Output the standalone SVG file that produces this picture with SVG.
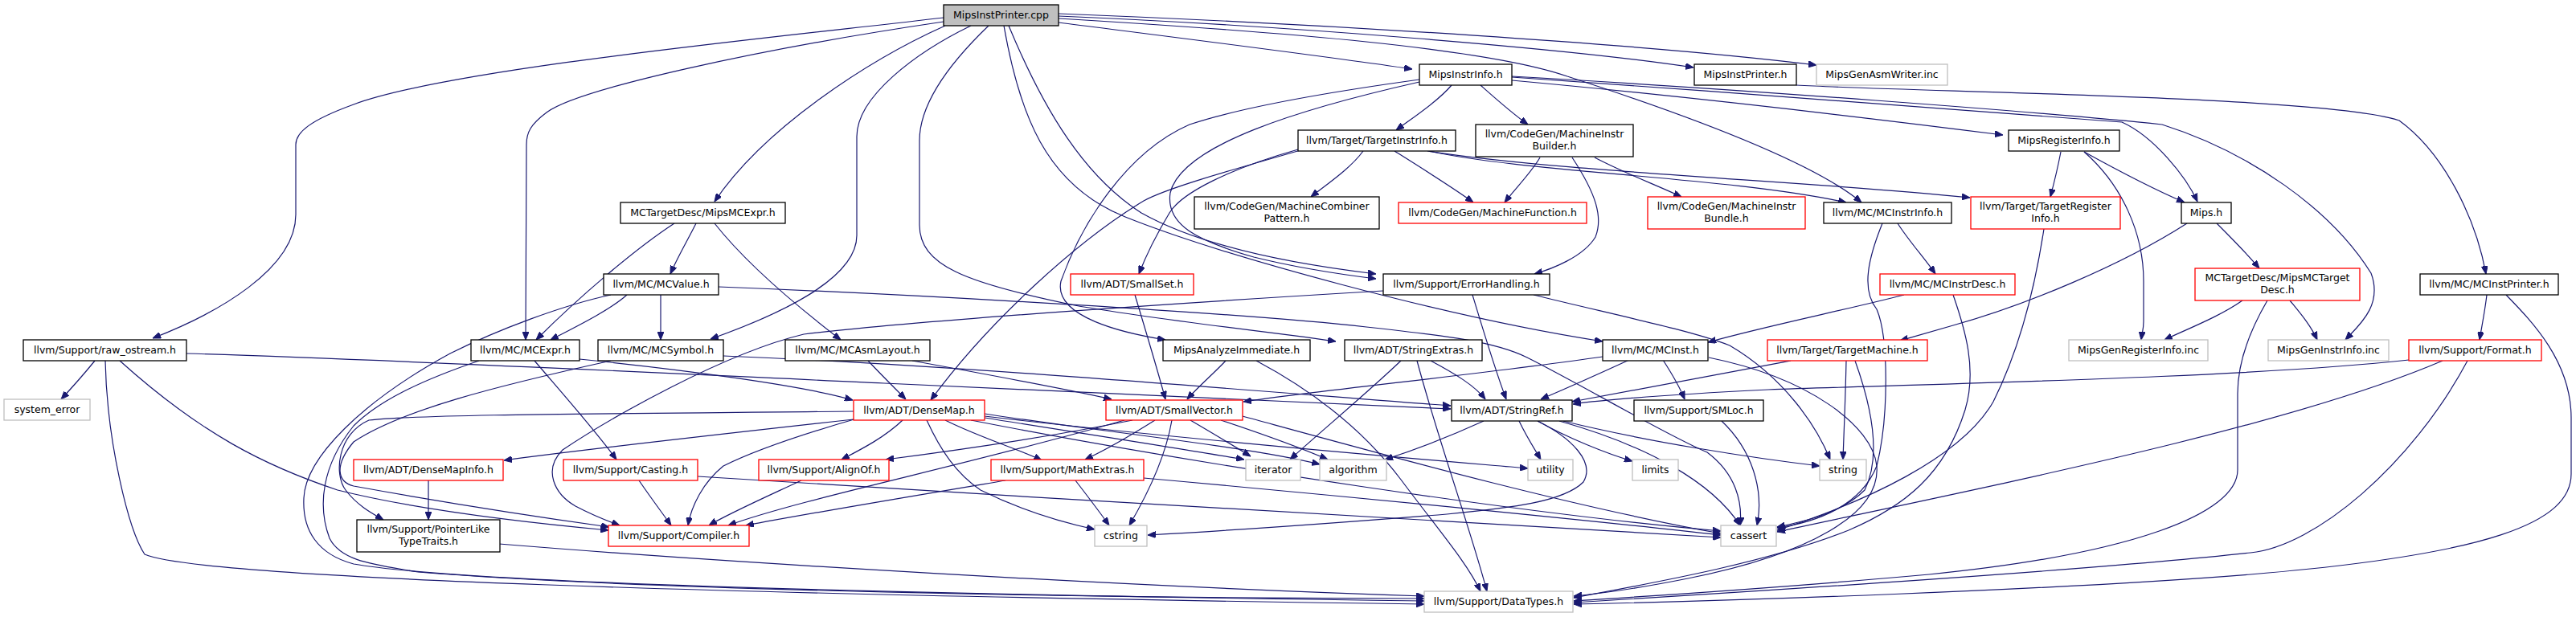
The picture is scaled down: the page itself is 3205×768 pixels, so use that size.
<svg xmlns="http://www.w3.org/2000/svg" width="3205" height="768" viewBox="0 0 3205 768">
<defs>
<marker id="ah" viewBox="0 0 10 8" refX="10" refY="4" markerWidth="10" markerHeight="8" markerUnits="userSpaceOnUse" orient="auto"><path d="M0,0L10,4L0,8z" fill="#191970" stroke="#191970" stroke-width="1"/></marker>
</defs>
<style>
.e{fill:none;stroke:#191970;stroke-width:1.2;marker-end:url(#ah)}
rect{fill:#fff;stroke:#000;stroke-width:1.3}
.r rect{stroke:#ff0000}
.g rect{stroke:#bfbfbf}
.root rect{fill:#bfbfbf}
text{font-family:"DejaVu Sans","Liberation Sans",sans-serif;font-size:12.5px;fill:#000;text-anchor:middle}
</style>
<rect x="0" y="0" width="3205" height="768" style="fill:#fff;stroke:none"/>
<g id="edges">
<path class="e" d="M1174,22 C980,45 560,85 440,130 C385,150 368,165 368,180 L368,267 C368,335 270,390 190,421"/>
<path class="e" d="M1174,27 C950,60 720,110 680,140 C660,155 655,165 655,180 L654,423"/>
<path class="e" d="M1176,32 C1080,75 950,160 889,251"/>
<path class="e" d="M1208,32 C1140,65 1066,120 1066,170 L1066,293 C1066,350 960,395 884,422"/>
<path class="e" d="M1230,32 C1180,80 1144,130 1144,175 L1144,280 C1144,330 1200,352 1337,380 C1450,400 1600,415 1662,425"/>
<path class="e" d="M1249,32 C1268,140 1300,230 1400,270 C1520,318 1800,395 1994,425"/>
<path class="e" d="M1255,32 C1300,140 1350,220 1420,265 C1500,310 1620,330 1712,341"/>
<path class="e" d="M1317,28 C1450,45 1650,70 1757,86"/>
<path class="e" d="M1317,20 C1600,32 1950,60 2107,84"/>
<path class="e" d="M1317,17 C1650,30 2050,55 2260,81"/>
<path class="e" d="M1317,23 C1600,40 1850,60 1950,95 C2120,150 2260,205 2316,252"/>
<path class="e" d="M1806,106 C1790,125 1760,145 1737,162"/>
<path class="e" d="M1842,106 C1860,122 1880,140 1901,155"/>
<path class="e" d="M1766,99 C1650,115 1540,135 1480,155 C1400,190 1345,280 1320,350 C1310,395 1400,415 1450,423"/>
<path class="e" d="M1766,102 C1620,135 1470,180 1456,240 C1450,280 1490,300 1560,320 C1620,335 1680,343 1712,347"/>
<path class="e" d="M1881,100 C2100,120 2350,150 2492,168"/>
<path class="e" d="M1881,96 C2150,115 2500,140 2640,152 C2680,170 2720,220 2734,251"/>
<path class="e" d="M1881,95 C2150,110 2550,140 2690,155 C2800,190 2900,260 2950,340 C2965,380 2935,405 2918,423"/>
<path class="e" d="M2235,106 C2400,115 2900,120 2985,150 C3040,190 3080,270 3093,341"/>
<path class="e" d="M1696,188 C1680,210 1650,230 1631,245"/>
<path class="e" d="M1735,188 C1770,210 1810,235 1833,252"/>
<path class="e" d="M1778,188 C1900,215 2150,220 2297,252"/>
<path class="e" d="M1776,188 C1950,215 2250,225 2451,246"/>
<path class="e" d="M1615,186 C1530,210 1470,240 1455,265 C1440,290 1425,320 1417,341"/>
<path class="e" d="M1618,187 C1520,215 1450,235 1423,250 C1340,300 1230,400 1158,498"/>
<path class="e" d="M1916,196 C1905,215 1885,235 1872,252"/>
<path class="e" d="M1984,196 C2020,215 2060,230 2092,245"/>
<path class="e" d="M1956,196 C1985,240 1995,270 1985,295 C1970,320 1930,335 1909,341"/>
<path class="e" d="M2564,189 C2560,210 2555,230 2551,245"/>
<path class="e" d="M2593,189 C2640,215 2690,240 2718,252"/>
<path class="e" d="M2593,189 C2640,230 2667,290 2667,350 L2667,400 C2667,410 2665,415 2664,423"/>
<path class="e" d="M2758,278 C2775,295 2795,315 2811,334"/>
<path class="e" d="M2721,278 C2640,330 2520,380 2430,405 C2405,412 2385,418 2364,424"/>
<path class="e" d="M2543,285 C2530,370 2510,440 2480,500 C2440,570 2320,625 2211,660"/>
<path class="e" d="M2361,278 C2375,300 2395,322 2408,341"/>
<path class="e" d="M2342,278 C2325,320 2315,360 2335,385 C2350,420 2350,520 2335,580 C2315,630 2260,650 2211,657"/>
<path class="e" d="M2369,367 C2300,385 2200,405 2125,426"/>
<path class="e" d="M2430,367 C2445,410 2460,460 2445,510 C2420,590 2370,630 2300,660 C2200,700 2060,725 1958,744"/>
<path class="e" d="M2790,374 C2760,395 2720,410 2693,423"/>
<path class="e" d="M2849,374 C2862,390 2875,405 2883,423"/>
<path class="e" d="M2821,374 C2800,410 2784,450 2784,490 L2784,585 C2784,640 2650,690 2400,715 C2200,733 2050,742 1958,748"/>
<path class="e" d="M3094,367 C3092,385 3088,405 3085,423"/>
<path class="e" d="M3118,367 C3150,400 3199,450 3199,520 L3199,590 C3199,650 3100,690 2800,715 C2550,735 2150,748 1958,752"/>
<path class="e" d="M2997,448 C2800,470 2400,478 2200,485 C2100,490 2000,497 1957,503"/>
<path class="e" d="M3039,449 C2850,530 2500,600 2211,662"/>
<path class="e" d="M3070,449 C3000,580 2880,680 2800,688 C2600,710 2200,735 1958,750"/>
<path class="e" d="M2297,449 C2296,500 2294,540 2293,572"/>
<path class="e" d="M2228,449 C2120,470 2010,490 1956,500"/>
<path class="e" d="M2308,449 C2330,510 2340,570 2320,610 C2290,640 2240,650 2211,656"/>
<path class="e" d="M2027,448 C1990,465 1945,485 1917,497"/>
<path class="e" d="M2069,448 C2080,465 2090,482 2096,497"/>
<path class="e" d="M1994,444 C1850,465 1650,485 1547,500"/>
<path class="e" d="M2126,445 C2250,470 2330,530 2335,580 C2340,640 2250,690 2100,720 C2050,730 2000,738 1958,742"/>
<path class="e" d="M2142,524 C2180,560 2195,610 2186,654"/>
<path class="e" d="M1846,524 C1800,545 1760,560 1723,572"/>
<path class="e" d="M1890,524 C1900,545 1910,560 1917,572"/>
<path class="e" d="M1913,524 C1950,545 2000,565 2031,574"/>
<path class="e" d="M1945,524 C2050,550 2180,570 2264,580"/>
<path class="e" d="M1940,524 C2050,555 2130,600 2165,654"/>
<path class="e" d="M1913,524 C1955,545 1985,575 1970,600 C1945,625 1880,632 1800,640 C1650,652 1500,662 1428,666"/>
<path class="e" d="M1780,449 C1810,465 1835,480 1848,497"/>
<path class="e" d="M1763,449 C1790,550 1830,660 1850,736"/>
<path class="e" d="M1743,449 C1700,490 1640,540 1605,572"/>
<path class="e" d="M1525,449 C1510,465 1490,482 1477,497"/>
<path class="e" d="M1563,449 C1640,490 1700,540 1743,597 C1790,660 1825,700 1842,736"/>
<path class="e" d="M1412,367 C1425,410 1440,460 1450,497"/>
<path class="e" d="M1080,449 C1095,465 1115,485 1127,497"/>
<path class="e" d="M1135,449 C1250,470 1330,485 1383,497"/>
<path class="e" d="M866,278 C855,300 843,320 834,341"/>
<path class="e" d="M839,278 C790,310 720,370 667,423"/>
<path class="e" d="M889,278 C930,330 990,380 1046,423"/>
<path class="e" d="M780,367 C760,385 720,405 685,423"/>
<path class="e" d="M822,367 L822,423"/>
<path class="e" d="M760,367 C700,380 620,410 560,440 C450,500 380,570 378,620 C376,660 395,690 440,702 C600,730 1300,742 1772,748"/>
<path class="e" d="M894,357 C1150,367 1550,390 1700,407 C1800,418 1860,425 1900,445 C1970,480 2070,540 2124,563 C2160,590 2168,625 2165,654"/>
<path class="e" d="M721,447 C850,460 1000,480 1061,498"/>
<path class="e" d="M665,449 C700,490 740,535 767,572"/>
<path class="e" d="M596,449 C520,475 470,500 440,530 C400,580 395,630 410,670 C425,700 470,703 520,712 C800,735 1400,745 1772,745"/>
<path class="e" d="M900,443 C1200,455 1600,490 1805,505"/>
<path class="e" d="M760,449 C620,480 500,510 440,550 C415,580 420,600 440,605 C550,625 680,645 758,656"/>
<path class="e" d="M118,449 C105,465 90,482 76,497"/>
<path class="e" d="M232,440 C500,448 900,468 1100,477 C1400,490 1650,500 1805,509"/>
<path class="e" d="M149,449 C250,540 330,580 420,610 C520,635 650,650 757,660"/>
<path class="e" d="M131,449 C133,550 160,660 180,690 C250,720 900,740 1772,752"/>
<path class="e" d="M1832,367 C1845,410 1860,460 1874,497"/>
<path class="e" d="M1908,367 C2000,390 2100,410 2152,430 C2220,470 2260,530 2277,572"/>
<path class="e" d="M1721,362 C1500,375 1150,398 1000,416 C900,440 760,520 700,560 C675,585 690,615 716,630 C735,640 760,650 771,654"/>
<path class="e" d="M1062,522 C900,540 720,560 627,573"/>
<path class="e" d="M1062,512 C800,515 530,515 459,523 C420,540 415,590 430,610 C445,630 465,640 477,647"/>
<path class="e" d="M1123,523 C1100,545 1070,560 1047,572"/>
<path class="e" d="M1176,523 C1220,545 1270,560 1296,573"/>
<path class="e" d="M1153,523 C1170,560 1190,590 1220,610 C1270,635 1320,650 1362,659"/>
<path class="e" d="M1066,521 C1000,540 940,560 900,580 C875,600 860,630 856,654"/>
<path class="e" d="M1225,520 C1350,540 1480,560 1548,572"/>
<path class="e" d="M1225,515 C1350,535 1550,555 1642,578"/>
<path class="e" d="M1225,518 C1450,545 1750,570 1901,583"/>
<path class="e" d="M1208,523 C1500,580 1900,640 2141,661"/>
<path class="e" d="M1409,523 C1300,545 1180,562 1102,572"/>
<path class="e" d="M1437,523 C1410,540 1380,558 1350,572"/>
<path class="e" d="M1458,523 C1450,570 1425,620 1405,654"/>
<path class="e" d="M1399,523 C1200,580 1000,620 906,654"/>
<path class="e" d="M1481,523 C1510,540 1535,555 1556,568"/>
<path class="e" d="M1519,523 C1570,540 1615,556 1652,572"/>
<path class="e" d="M1546,518 C1700,560 1950,630 2141,664"/>
<path class="e" d="M1251,598 C1120,620 1000,640 928,654"/>
<path class="e" d="M1338,598 C1355,620 1370,640 1380,654"/>
<path class="e" d="M1423,595 C1700,620 2000,650 2141,666"/>
<path class="e" d="M997,598 C950,620 905,640 882,654"/>
<path class="e" d="M795,598 C810,620 825,640 835,654"/>
<path class="e" d="M868,593 C1300,620 1800,650 2141,669"/>
<path class="e" d="M533,598 L533,647"/>
<path class="e" d="M621,677 C900,700 1400,730 1772,742"/>
</g>
<g id="n1" class="root"><rect x="1174" y="6" width="143" height="26"/><text x="1245.5" y="23">MipsInstPrinter.cpp</text></g>
<g id="n2"><rect x="1766" y="80" width="115" height="26"/><text x="1823.5" y="97">MipsInstrInfo.h</text></g>
<g id="n3"><rect x="2108" y="80" width="127" height="26"/><text x="2171.5" y="97">MipsInstPrinter.h</text></g>
<g id="n4" class="g"><rect x="2260" y="80" width="163" height="26"/><text x="2341.5" y="97">MipsGenAsmWriter.inc</text></g>
<g id="n5"><rect x="1615" y="162" width="196" height="26"/><text x="1713" y="179">llvm/Target/TargetInstrInfo.h</text></g>
<g id="n6"><rect x="1836" y="155" width="196" height="40"/><text x="1934" y="171">llvm/CodeGen/MachineInstr</text><text x="1934" y="186">Builder.h</text></g>
<g id="n7"><rect x="2499" y="162" width="138" height="26"/><text x="2568" y="179">MipsRegisterInfo.h</text></g>
<g id="n8"><rect x="772" y="252" width="205" height="26"/><text x="874.5" y="269">MCTargetDesc/MipsMCExpr.h</text></g>
<g id="n9"><rect x="1486" y="245" width="230" height="40"/><text x="1601" y="261">llvm/CodeGen/MachineCombiner</text><text x="1601" y="276">Pattern.h</text></g>
<g id="n10" class="r"><rect x="1740" y="252" width="234" height="26"/><text x="1857" y="269">llvm/CodeGen/MachineFunction.h</text></g>
<g id="n11" class="r"><rect x="2050" y="245" width="196" height="40"/><text x="2148" y="261">llvm/CodeGen/MachineInstr</text><text x="2148" y="276">Bundle.h</text></g>
<g id="n12"><rect x="2269" y="252" width="159" height="26"/><text x="2348.5" y="269">llvm/MC/MCInstrInfo.h</text></g>
<g id="n13" class="r"><rect x="2452" y="245" width="186" height="40"/><text x="2545" y="261">llvm/Target/TargetRegister</text><text x="2545" y="276">Info.h</text></g>
<g id="n14"><rect x="2714" y="252" width="62" height="26"/><text x="2745" y="269">Mips.h</text></g>
<g id="n15"><rect x="751" y="341" width="143" height="26"/><text x="822.5" y="358">llvm/MC/MCValue.h</text></g>
<g id="n16" class="r"><rect x="1332" y="341" width="153" height="26"/><text x="1408.5" y="358">llvm/ADT/SmallSet.h</text></g>
<g id="n17"><rect x="1721" y="341" width="207" height="26"/><text x="1824.5" y="358">llvm/Support/ErrorHandling.h</text></g>
<g id="n18" class="r"><rect x="2339" y="341" width="168" height="26"/><text x="2423" y="358">llvm/MC/MCInstrDesc.h</text></g>
<g id="n19" class="r"><rect x="2731" y="334" width="205" height="40"/><text x="2833.5" y="350">MCTargetDesc/MipsMCTarget</text><text x="2833.5" y="365">Desc.h</text></g>
<g id="n20"><rect x="3011" y="341" width="172" height="26"/><text x="3097" y="358">llvm/MC/MCInstPrinter.h</text></g>
<g id="n21"><rect x="29" y="423" width="203" height="26"/><text x="130.5" y="440">llvm/Support/raw_ostream.h</text></g>
<g id="n22"><rect x="586" y="423" width="135" height="26"/><text x="653.5" y="440">llvm/MC/MCExpr.h</text></g>
<g id="n23"><rect x="744" y="423" width="156" height="26"/><text x="822" y="440">llvm/MC/MCSymbol.h</text></g>
<g id="n24"><rect x="977" y="423" width="180" height="26"/><text x="1067" y="440">llvm/MC/MCAsmLayout.h</text></g>
<g id="n25"><rect x="1447" y="423" width="183" height="26"/><text x="1538.5" y="440">MipsAnalyzeImmediate.h</text></g>
<g id="n26"><rect x="1673" y="423" width="171" height="26"/><text x="1758.5" y="440">llvm/ADT/StringExtras.h</text></g>
<g id="n27"><rect x="1994" y="423" width="131" height="26"/><text x="2059.5" y="440">llvm/MC/MCInst.h</text></g>
<g id="n28" class="r"><rect x="2199" y="423" width="199" height="26"/><text x="2298.5" y="440">llvm/Target/TargetMachine.h</text></g>
<g id="n29" class="g"><rect x="2574" y="423" width="173" height="26"/><text x="2660.5" y="440">MipsGenRegisterInfo.inc</text></g>
<g id="n30" class="g"><rect x="2822" y="423" width="150" height="26"/><text x="2897" y="440">MipsGenInstrInfo.inc</text></g>
<g id="n31" class="r"><rect x="2997" y="423" width="165" height="26"/><text x="3079.5" y="440">llvm/Support/Format.h</text></g>
<g id="n32" class="g"><rect x="5" y="497" width="107" height="26"/><text x="58.5" y="514">system_error</text></g>
<g id="n33" class="r"><rect x="1062" y="498" width="163" height="25"/><text x="1143.5" y="515">llvm/ADT/DenseMap.h</text></g>
<g id="n34" class="r"><rect x="1376" y="498" width="170" height="25"/><text x="1461" y="515">llvm/ADT/SmallVector.h</text></g>
<g id="n35"><rect x="1806" y="498" width="150" height="26"/><text x="1881" y="515">llvm/ADT/StringRef.h</text></g>
<g id="n36"><rect x="2033" y="498" width="161" height="26"/><text x="2113.5" y="515">llvm/Support/SMLoc.h</text></g>
<g id="n37" class="r"><rect x="440" y="572" width="186" height="26"/><text x="533" y="589">llvm/ADT/DenseMapInfo.h</text></g>
<g id="n38" class="r"><rect x="701" y="572" width="167" height="26"/><text x="784.5" y="589">llvm/Support/Casting.h</text></g>
<g id="n39" class="r"><rect x="944" y="572" width="162" height="26"/><text x="1025" y="589">llvm/Support/AlignOf.h</text></g>
<g id="n40" class="r"><rect x="1233" y="572" width="190" height="26"/><text x="1328" y="589">llvm/Support/MathExtras.h</text></g>
<g id="n41" class="g"><rect x="1550" y="572" width="68" height="26"/><text x="1584" y="589">iterator</text></g>
<g id="n42" class="g"><rect x="1642" y="572" width="83" height="26"/><text x="1683.5" y="589">algorithm</text></g>
<g id="n43" class="g"><rect x="1901" y="572" width="56" height="26"/><text x="1929" y="589">utility</text></g>
<g id="n44" class="g"><rect x="2031" y="572" width="57" height="26"/><text x="2059.5" y="589">limits</text></g>
<g id="n45" class="g"><rect x="2264" y="572" width="58" height="26"/><text x="2293" y="589">string</text></g>
<g id="n46"><rect x="444" y="647" width="178" height="40"/><text x="533" y="663">llvm/Support/PointerLike</text><text x="533" y="678">TypeTraits.h</text></g>
<g id="n47" class="r"><rect x="757" y="654" width="175" height="26"/><text x="844.5" y="671">llvm/Support/Compiler.h</text></g>
<g id="n48" class="g"><rect x="1362" y="654" width="65" height="26"/><text x="1394.5" y="671">cstring</text></g>
<g id="n49" class="g"><rect x="2141" y="654" width="69" height="26"/><text x="2175.5" y="671">cassert</text></g>
<g id="n50" class="g"><rect x="1772" y="736" width="185" height="26"/><text x="1864.5" y="753">llvm/Support/DataTypes.h</text></g>
</svg>
